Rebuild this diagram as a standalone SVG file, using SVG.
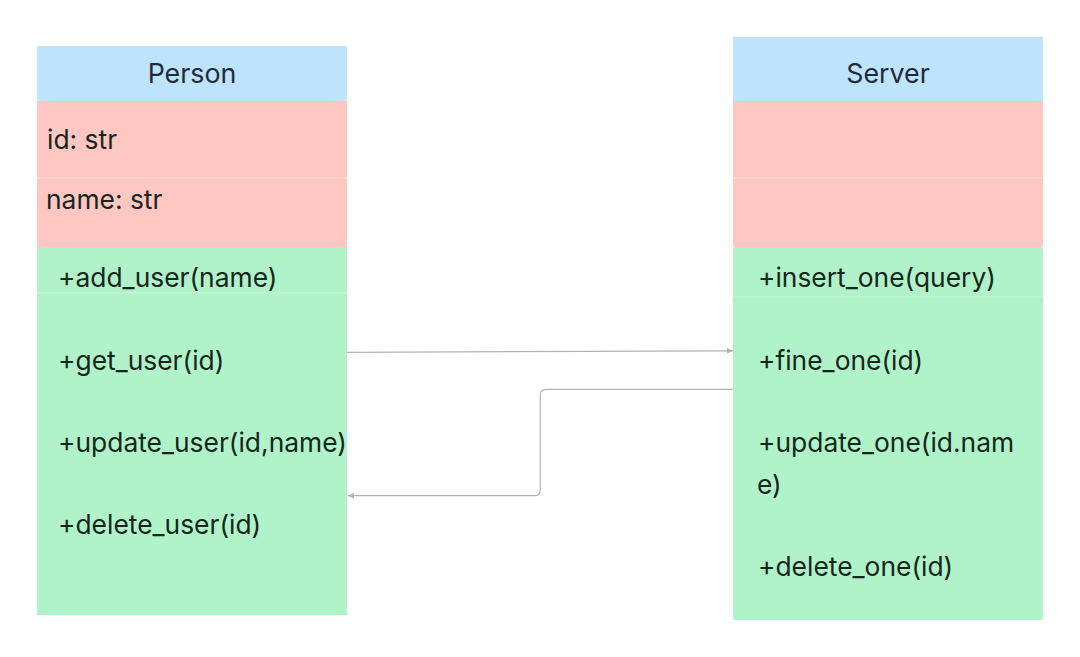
<svg xmlns="http://www.w3.org/2000/svg" width="1080" height="657" viewBox="0 0 1080 657">
<defs>
<style>
.hdr{fill:#bee3fc}
.attr{fill:#ffc7c2}
.meth{fill:#b1f3c9}
.sep{stroke:#ffffff;stroke-opacity:0.3;stroke-width:1}
.t{font-family:Inter,"Noto Sans","Liberation Sans",sans-serif;font-size:26.4px;fill:#16261d}
.h{font-family:Inter,"Noto Sans","Liberation Sans",sans-serif;font-size:26.8px;fill:#1e2b38;text-anchor:middle}
.conn{fill:none;stroke:#b3b3b3;stroke-width:1.2}
</style>
<marker id="arr" viewBox="0 0 10 10" refX="9" refY="5" markerWidth="7" markerHeight="7" markerUnits="userSpaceOnUse" orient="auto">
<path d="M0,1 L10,5 L0,9 z" fill="#b3b3b3"/>
</marker>
</defs>
<rect width="1080" height="657" fill="#ffffff"/>
<g id="person">
<rect class="hdr" x="37" y="46" width="310" height="55" rx="2"/>
<rect class="attr" x="37" y="101" width="310" height="146"/>
<rect class="meth" x="37" y="247" width="310" height="368"/>
<line class="sep" x1="37" y1="178" x2="347" y2="178"/>
<line class="sep" x1="37" y1="293" x2="347" y2="293"/>
<text class="h" x="192" y="83">Person</text>
<text class="t" x="47" y="149">id: str</text>
<text class="t" x="46" y="209">name: str</text>
<text class="t" x="58" y="287">+add_user(name)</text>
<text class="t" x="58" y="369.5">+get_user(id)</text>
<text class="t" x="58" y="451.5">+update_user(id,name)</text>
<text class="t" x="58" y="533.5">+delete_user(id)</text>
</g>
<g id="server">
<rect class="hdr" x="733" y="37" width="310" height="64"/>
<rect class="attr" x="733" y="101" width="310" height="146"/>
<rect class="meth" x="733" y="247" width="310" height="373" rx="2"/>
<line class="sep" x1="733" y1="178" x2="1043" y2="178"/>
<line class="sep" x1="733" y1="297" x2="1043" y2="297"/>
<text class="h" x="888" y="83">Server</text>
<text class="t" x="758" y="287">+insert_one(query)</text>
<text class="t" x="758" y="369.5">+fine_one(id)</text>
<text class="t" x="758" y="451.5">+update_one(id.nam</text>
<text class="t" x="757" y="493.5">e)</text>
<text class="t" x="758" y="575.5">+delete_one(id)</text>
</g>
<g id="connectors">
<path class="conn" d="M347,352.3 L733,350.8" marker-end="url(#arr)"/>
<path class="conn" d="M733,389.3 L546,389.3 Q540.3,389.3 540.3,395 L540.3,490 Q540.3,495.7 534.6,495.7 L348,495.7" marker-end="url(#arr)"/>
</g>
</svg>
